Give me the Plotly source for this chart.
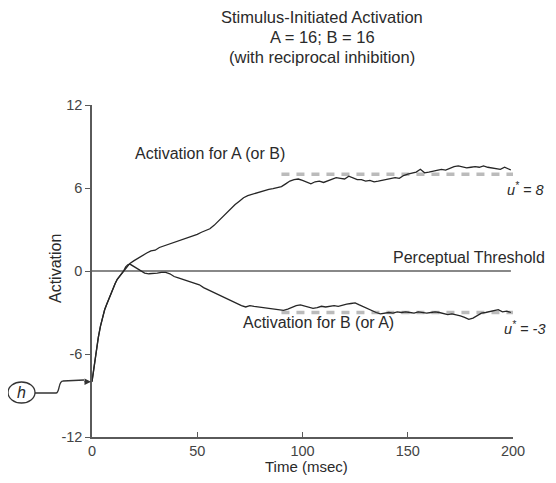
import plotly.graph_objects as go

# shared initial rise of both units (ms, activation)
rise_t = [0, 1, 2, 3, 4, 5, 6, 7, 8, 9, 10, 11, 12, 13, 14, 15]
rise_v = [-8.0, -6.9, -5.8, -4.8, -4.0, -3.3, -2.8, -2.4, -2.0, -1.6, -1.2, -0.9, -0.6, -0.4, -0.2, 0.0]

# Activation for A (or B), after the shared rise
a_t = [16, 17, 18, 20, 22, 24, 26, 28, 30, 32, 34, 36, 38, 40, 42, 44, 46, 48, 50,
       52, 54, 56, 58, 60, 62, 64, 66, 68, 70, 72, 74, 76, 78, 80, 82, 84, 86, 88, 90,
       92, 94, 96, 98, 100, 102, 104, 106, 108, 110, 112, 114, 116, 118, 120, 122, 124,
       126, 128, 130, 132, 134, 136, 138, 140, 142, 144, 146, 148, 150, 152, 154, 156,
       158, 160, 162, 164, 166, 168, 170, 172, 174, 176, 178, 180, 182, 184, 186, 188,
       190, 192, 194, 196, 198, 199]
a_v = [0.2, 0.4, 0.55, 0.75, 0.95, 1.1, 1.3, 1.45, 1.5, 1.7, 1.8, 1.95, 2.05, 2.15, 2.2,
       2.35, 2.4, 2.55, 2.65, 2.8, 2.95, 3.05, 3.3, 3.6, 3.9, 4.2, 4.55, 4.8, 5.05, 5.3,
       5.45, 5.55, 5.65, 5.75, 5.8, 5.9, 5.95, 6.0, 6.1, 6.3, 6.5, 6.6, 6.65, 6.55, 6.4,
       6.3, 6.45, 6.5, 6.4, 6.5, 6.6, 6.75, 6.7, 6.65, 6.85, 6.75, 6.6, 6.6, 6.5, 6.55,
       6.45, 6.5, 6.55, 6.6, 6.7, 6.75, 6.7, 6.9, 7.0, 7.05, 7.15, 7.35, 7.1, 7.15, 7.2,
       7.3, 7.35, 7.3, 7.45, 7.55, 7.6, 7.5, 7.45, 7.5, 7.55, 7.5, 7.6, 7.5, 7.45, 7.4,
       7.35, 7.5, 7.35, 7.3]

# Activation for B (or A), after the shared rise
b_t = [16, 17, 18, 19, 20, 21, 22, 23, 25, 27, 29, 31, 33, 35, 37, 39, 41, 43, 45, 47,
       49, 51, 53, 55, 57, 59, 61, 63, 65, 67, 69, 71, 73, 75, 77, 79, 81, 83, 85, 87,
       89, 91, 93, 95, 97, 99, 101, 103, 105, 107, 109, 111, 113, 115, 117, 119, 121,
       123, 125, 127, 129, 131, 133, 135, 137, 139, 141, 143, 145, 147, 149, 151, 153,
       155, 157, 159, 161, 163, 165, 167, 169, 171, 173, 175, 177, 179, 181, 183, 185,
       187, 189, 191, 193, 195, 197, 199]
b_v = [0.3, 0.45, 0.5, 0.4, 0.3, 0.2, 0.1, 0.0, -0.15, -0.2, -0.2, -0.15, -0.1, -0.1,
       -0.2, -0.4, -0.5, -0.6, -0.7, -0.8, -0.9, -1.0, -1.2, -1.35, -1.5, -1.65, -1.8,
       -1.95, -2.05, -2.2, -2.35, -2.5, -2.6, -2.5, -2.55, -2.6, -2.6, -2.65, -2.7, -2.75,
       -2.85, -2.85, -2.75, -2.6, -2.5, -2.45, -2.55, -2.65, -2.7, -2.65, -2.55, -2.6,
       -2.55, -2.5, -2.55, -2.45, -2.4, -2.35, -2.3, -2.45, -2.6, -2.75, -2.9, -3.0,
       -3.1, -3.05, -3.0, -3.05, -2.95, -3.0, -2.95, -3.0, -3.05, -2.95, -3.0, -3.05,
       -3.0, -2.95, -3.0, -3.1, -3.15, -3.1, -3.15, -3.25, -3.35, -3.5, -3.4, -3.2,
       -3.05, -3.0, -2.95, -2.85, -2.8, -2.95, -2.9, -3.0]

# equilibrium levels (dashed) and their span
eq_t = [90, 200]
eq_high = 7
eq_low = -3
threshold_t = [0, 199]
threshold_v = 0

x_ticks = [0, 50, 100, 150, 200]
y_ticks = [-12, -6, 0, 6, 12]
y_tick_labels = ["-12", "-6", "0", "6", "12"]

FONT = "Liberation Sans, Arial, Helvetica, sans-serif"
CURVE = "#262626"
AXIS = "#5a5a5a"

fig = go.Figure()
fig.add_trace(go.Scatter(x=eq_t, y=[eq_high, eq_high], mode="lines",
                         line=dict(color="#bbbbbb", width=3.5, dash="8px,7px")))
fig.add_trace(go.Scatter(x=eq_t, y=[eq_low, eq_low], mode="lines",
                         line=dict(color="#bbbbbb", width=3.5, dash="8px,7px")))
fig.add_trace(go.Scatter(x=threshold_t, y=[threshold_v, threshold_v], mode="lines",
                         line=dict(color="#606060", width=1.6)))
fig.add_trace(go.Scatter(x=rise_t + a_t, y=rise_v + a_v, mode="lines",
                         line=dict(color=CURVE, width=1.3)))
fig.add_trace(go.Scatter(x=rise_t + b_t, y=rise_v + b_v, mode="lines",
                         line=dict(color=CURVE, width=1.3)))

# the page body adds an 8px margin all round, so the figure is shrunk to fit
OFF = 8
W, H = 556 - 2 * OFF, 483 - 2 * OFF
# plot box in reference pixels: x 92..513, y 105..437
L, R, T, B = 92, 513, 105, 437


def px(x, y):
    return (x - L) / (R - L), (B - y) / (B - T)


def note(x, y, text, size=16, anchor="center", **kw):
    xx, yy = px(x, y)
    d = dict(x=xx, y=yy, xref="paper", yref="paper", text=text, showarrow=False,
             xanchor=anchor, yanchor="middle",
             font=dict(family=FONT, size=size, color="#2a2a2a"))
    d.update(kw)
    return d


anns = []
for i, line in enumerate(["Stimulus-Initiated Activation", "A = 16; B = 16",
                          "(with reciprocal inhibition)"]):
    anns.append(note(322, 17 + 20 * i, line, size=16.5))

anns += [
    note(133, 153, "Activation for A (or B)", anchor="left"),
    note(547, 257, "Perceptual Threshold", anchor="right"),
    note(241, 322, "Activation for B (or A)", anchor="left"),
    note(505, 189, "<i>u<sup>*</sup> = 8</i>", size=14.5, anchor="left"),
    note(502, 328, "<i>u<sup>*</sup> = -3</i>", size=14.5, anchor="left"),
    note(55, 269, "Activation", textangle=-90),
    note(306, 466, "Time (msec)", size=15),
    note(21.5, 392.5, "<i>h</i>", size=16),
]
# arrow head into the axis at the resting level
anns.append(dict(x=0, y=rise_v[0], xref="x", yref="y", ax=-9, ay=0, text="",
                 showarrow=True, arrowhead=2, arrowsize=1, arrowwidth=1.3,
                 arrowcolor="#333", standoff=1))

cx0, cy0 = px(8, 403)
cx1, cy1 = px(35, 382)
p = [px(35, 393), px(56, 393), px(60, 393), px(58, 381), px(63, 381), px(84, 380)]
path = "M {0[0]},{0[1]} L {1[0]},{1[1]} C {2[0]},{2[1]} {3[0]},{3[1]} {4[0]},{4[1]} L {5[0]},{5[1]}".format(*p)
fig.update_layout(shapes=[
    dict(type="circle", xref="paper", yref="paper", x0=cx0, y0=cy0, x1=cx1, y1=cy1,
         line=dict(color="#333", width=1.3)),
    dict(type="path", xref="paper", yref="paper", path=path,
         line=dict(color="#333", width=1.3)),
])

tickfont = dict(family=FONT, size=14.5, color="#444")
fig.update_layout(
    width=W, height=H,
    margin=dict(l=L - OFF, r=W + OFF - R, t=T - OFF, b=H + OFF - B, autoexpand=False),
    paper_bgcolor="white", plot_bgcolor="white",
    showlegend=False, annotations=anns,
    xaxis=dict(range=[0, 200], tickvals=x_ticks, ticks="inside", ticklen=5,
               tickcolor=AXIS, showline=True, linecolor=AXIS, linewidth=1.5,
               showgrid=False, zeroline=False, tickfont=tickfont),
    yaxis=dict(range=[-12, 12], tickvals=y_ticks, ticktext=y_tick_labels,
               ticks="outside", ticklen=5,
               tickcolor=AXIS, showline=True, linecolor=AXIS, linewidth=1.5,
               showgrid=False, zeroline=False, tickfont=tickfont),
)

fig.write_html("out.html")
